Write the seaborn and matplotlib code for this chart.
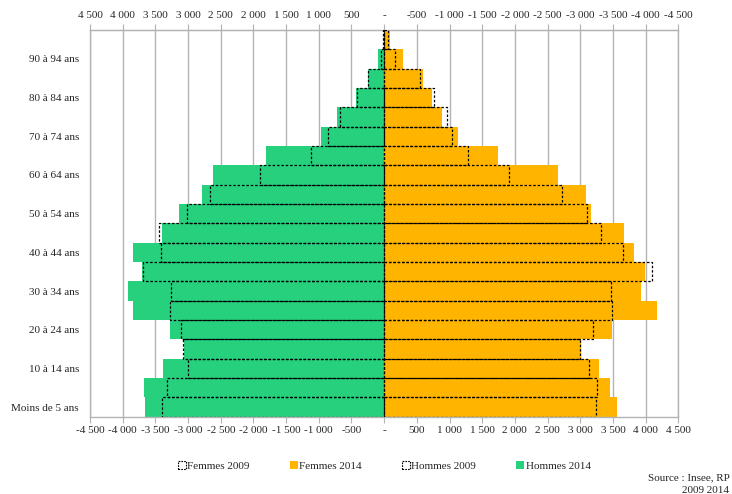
import numpy as np
import pandas as pd
import matplotlib.pyplot as plt
import seaborn as sns
from matplotlib.patches import Patch

# Age groups, top of the pyramid first
ages = ["95 ans ou plus", "90 à 94 ans", "85 à 89 ans", "80 à 84 ans", "75 à 79 ans",
        "70 à 74 ans", "65 à 69 ans", "60 à 64 ans", "55 à 59 ans", "50 à 54 ans",
        "45 à 49 ans", "40 à 44 ans", "35 à 39 ans", "30 à 34 ans", "25 à 29 ans",
        "20 à 24 ans", "15 à 19 ans", "10 à 14 ans", "5 à 9 ans", "Moins de 5 ans"]

hommes_2014 = [5, 92, 244, 427, 722, 966, 1805, 2618, 2781, 3136,
               3406, 3844, 3710, 3925, 3844, 3274, 3061, 3381, 3681, 3665]
hommes_2009 = [15, 55, 244, 417, 671, 854, 1113, 1907, 2669, 3020,
               3447, 3417, 3690, 3254, 3279, 3101, 3081, 3000, 3325, 3406]
femmes_2014 = [87, 292, 595, 727, 880, 1124, 1739, 2665, 3086, 3163,
               3671, 3824, 3992, 3931, 4180, 3493, 3010, 3290, 3458, 3565]
femmes_2009 = [66, 165, 549, 763, 956, 1037, 1281, 1907, 2715, 3101,
               3325, 3651, 4093, 3473, 3493, 3203, 3000, 3127, 3264, 3234]

legend_labels = ["Femmes 2009", "Femmes 2014", "Hommes 2009", "Hommes 2014"]

green = "#27d07d"
orange = "#ffb400"
grid_grey = "#b3b3b3"
text_col = "#262626"

df = pd.DataFrame({
    "age": ages,
    "h14": -np.array(hommes_2014),
    "h09": -np.array(hommes_2009),
    "f14": femmes_2014,
    "f09": femmes_2009,
})

sns.set_style("white")
plt.rcParams['font.family'] = ['Liberation Serif', 'DejaVu Serif']

fig = plt.figure(figsize=(7.32, 4.94), dpi=100)
ax = fig.add_axes([0.123, 0.1565, 0.8036, 0.7828])

# 2014 filled bars
for col, c in [("h14", green), ("f14", orange)]:
    sns.barplot(data=df, x=col, y="age", order=ages, color=c, saturation=1,
                width=1, orient="h", errorbar=None, linewidth=0, ax=ax)

# 2009 dotted outlines
for col in ["h09", "f09"]:
    sns.barplot(data=df, x=col, y="age", order=ages, color="black",
                width=1, orient="h", errorbar=None, ax=ax)
for cont in ax.containers[2:]:
    for p in cont:
        p.set_facecolor("none")
        p.set_edgecolor("black")
        p.set_linestyle((0, (2, 1.5)))
        p.set_linewidth(0.9)
        p.set_zorder(3)

ticks = np.arange(-4500, 4501, 500)


def fmt(v):
    if v == 0:
        return "-"
    s = f"{abs(v):,}".replace(",", " ")
    return ("-" + s) if v < 0 else s


ax.set_xlim(-4500, 4500)
ax.set_xticks(ticks)
ax.set_xticklabels([fmt(v) for v in ticks])
ax.tick_params(axis="x", bottom=True, length=4, color=grid_grey, labelsize=8,
               labelcolor=text_col, pad=3)

top = ax.secondary_xaxis("top")
top.set_xticks(ticks)
top.set_xticklabels([fmt(-v) for v in ticks])
top.tick_params(length=4, color=grid_grey, labelsize=8, labelcolor=text_col, pad=3)
top.spines["top"].set_color(grid_grey)

ax.set_yticks(range(len(ages)))
ax.set_yticklabels([a if i % 2 == 1 else "" for i, a in enumerate(ages)])
ax.tick_params(axis="y", length=0, labelsize=8, labelcolor=text_col, pad=8)
ax.set_xlabel("")
ax.set_ylabel("")

ax.grid(axis="x", color=grid_grey, linewidth=1)
ax.set_axisbelow(True)
for s in ax.spines.values():
    s.set_color(grid_grey)
    s.set_linewidth(1)

handles = [
    Patch(facecolor="white", edgecolor="black", linestyle=(0, (1.5, 1)), linewidth=0.8),
    Patch(facecolor=orange, edgecolor="none"),
    Patch(facecolor="white", edgecolor="black", linestyle=(0, (1.5, 1)), linewidth=0.8),
    Patch(facecolor=green, edgecolor="none"),
]
fig.legend(handles, legend_labels, loc="center", bbox_to_anchor=(0.525, 1 - 466 / 494),
           ncol=4, frameon=False, fontsize=8, handlelength=0.7, handleheight=0.7,
           handletextpad=0.15, columnspacing=3.6, labelcolor=text_col)

fig.text(0.997, 1 - 478 / 494, "Source : Insee, RP", ha="right", va="center",
         fontsize=8, color=text_col)
fig.text(0.996, 1 - 490 / 494, "2009 2014", ha="right", va="center",
         fontsize=8, color=text_col)

fig.savefig("out.png", dpi=100)
